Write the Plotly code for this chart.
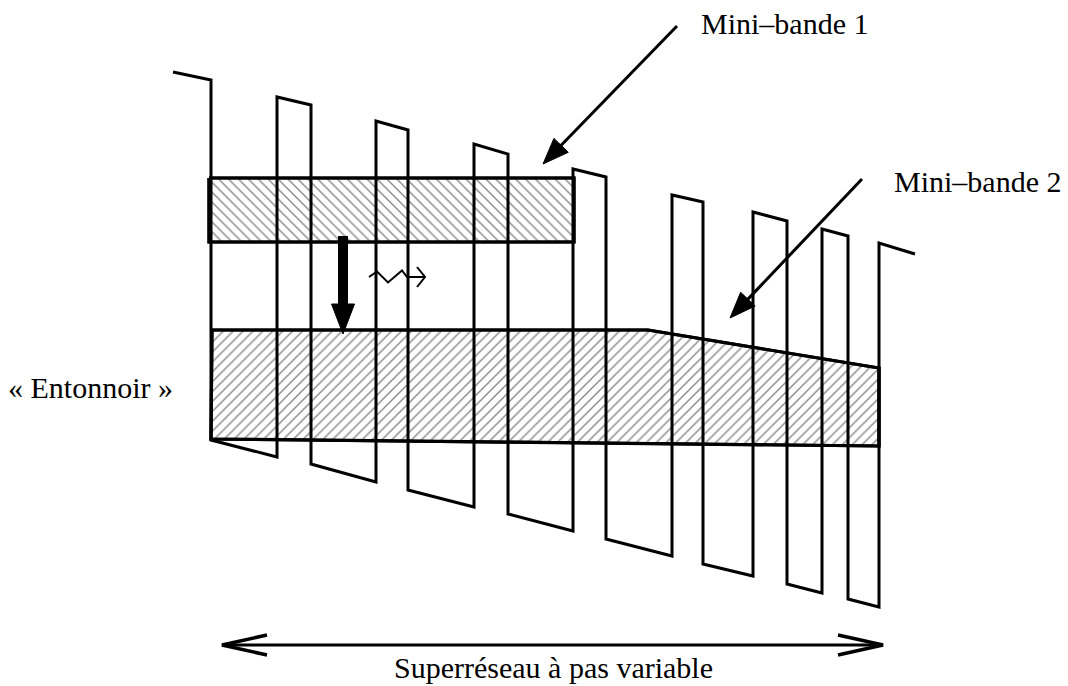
import math
import plotly.graph_objects as go

# ---------------- data (diagram coordinates, pixel-like units) ----------------
# superlattice potential profile (conduction band edge)
profile_x = [173, 211, 211, 277, 277, 311, 311, 376, 376, 408, 408, 474, 474, 508,
             508, 573, 573, 606, 606, 672, 672, 703, 703, 753, 753, 787, 787, 822,
             822, 848, 848, 879, 879, 915]
profile_y = [72, 80, 440, 457, 97, 105, 464, 482, 121, 130, 490, 507, 144, 154,
             514, 531, 169, 177, 539, 556, 195, 202, 564, 576, 212, 221, 584, 593,
             229, 236, 599, 607, 243, 254]

# mini-band 1 (rectangle)
band1_x = [209, 574, 574, 209, 209]
band1_y = [178, 178, 242, 242, 178]

# mini-band 2 ("entonnoir" / funnel)
band2_x = [212, 648, 879, 879, 211, 212]
band2_y = [330, 330, 368, 446, 439, 330]

# label arrows: (tail x, tail y, tip x, tip y)
arrow_band1 = (677, 26, 543, 164)
arrow_band2 = (862, 179, 730, 318)
# thick relaxation arrow
arrow_relax = (343, 236, 343, 334)
# photon (wavy) arrow
wavy_x = [369, 377, 388, 402, 407, 425]
wavy_y = [277, 271.5, 282.5, 270.5, 277, 277]
# double arrow for the superlattice extent
span_x = [222, 883]
span_y = 645

labels = ["Mini\u2013bande 1", "Mini\u2013bande 2", "\u00ab Entonnoir \u00bb",
          "Superr\u00e9seau \u00e0 pas variable"]
label_x = [699, 892, 6, 553]
label_y = [23, 181, 387, 667]
label_anchor = ["left", "left", "left", "center"]

W, H = 1068, 686
FONT = dict(family="Liberation Serif, Times New Roman, serif", size=30, color="black")

fig = go.Figure()

# hatched fills
fig.add_trace(go.Scatter(
    x=band1_x, y=band1_y, mode="lines", fill="toself",
    line=dict(color="black", width=3),
    fillcolor="white",
    fillpattern=dict(shape="\\", size=7, solidity=0.2, fgcolor="#111111", bgcolor="white"),
    hoverinfo="skip"))
fig.add_trace(go.Scatter(
    x=band2_x, y=band2_y, mode="lines", fill="toself",
    line=dict(color="black", width=3),
    fillcolor="white",
    fillpattern=dict(shape="/", size=7, solidity=0.2, fgcolor="#111111", bgcolor="white"),
    hoverinfo="skip"))

# potential profile
fig.add_trace(go.Scatter(x=profile_x, y=profile_y, mode="lines",
                         line=dict(color="black", width=3), hoverinfo="skip"))

# band outlines on top again
fig.add_trace(go.Scatter(x=band1_x, y=band1_y, mode="lines",
                         line=dict(color="black", width=3.2), hoverinfo="skip"))
fig.add_trace(go.Scatter(x=band2_x, y=band2_y, mode="lines",
                         line=dict(color="black", width=3.2), hoverinfo="skip"))


def filled_arrow(a, width, head_len, head_half):
    x0, y0, x1, y1 = a
    L = math.hypot(x1 - x0, y1 - y0)
    ux, uy = (x1 - x0) / L, (y1 - y0) / L
    px, py = -uy, ux
    bx, by = x1 - ux * head_len, y1 - uy * head_len
    fig.add_trace(go.Scatter(x=[x0, bx + ux * 2], y=[y0, by + uy * 2], mode="lines",
                             line=dict(color="black", width=width), hoverinfo="skip"))
    fig.add_trace(go.Scatter(
        x=[x1, bx + px * head_half, bx - px * head_half, x1],
        y=[y1, by + py * head_half, by - py * head_half, y1],
        mode="lines", fill="toself", fillcolor="black",
        line=dict(color="black", width=1), hoverinfo="skip"))


filled_arrow(arrow_band1, 3, 26, 10)
filled_arrow(arrow_band2, 3, 26, 10)
filled_arrow(arrow_relax, 10, 30, 11.5)

# wavy photon arrow
fig.add_trace(go.Scatter(x=wavy_x, y=wavy_y, mode="lines",
                         line=dict(color="black", width=2), hoverinfo="skip"))
hx, hy = wavy_x[-1], wavy_y[-1]
fig.add_trace(go.Scatter(x=[hx - 8, hx, hx - 8], y=[hy - 10, hy, hy + 10], mode="lines",
                         line=dict(color="black", width=2), hoverinfo="skip"))

# double-headed span arrow
fig.add_trace(go.Scatter(x=span_x, y=[span_y, span_y], mode="lines",
                         line=dict(color="black", width=3), hoverinfo="skip"))
for xt, d in [(span_x[0], 1), (span_x[1], -1)]:
    fig.add_trace(go.Scatter(x=[xt + d * 45, xt, xt + d * 45],
                             y=[span_y - 10, span_y, span_y + 10], mode="lines",
                             line=dict(color="black", width=3.5), hoverinfo="skip"))

for t, x, y, a in zip(labels, label_x, label_y, label_anchor):
    fig.add_annotation(x=x, y=y, text=t, showarrow=False, xanchor=a, yanchor="middle",
                       font=FONT)

fig.update_layout(
    width=W, height=H, margin=dict(l=0, r=0, t=0, b=0),
    paper_bgcolor="white", plot_bgcolor="white", showlegend=False,
    xaxis=dict(range=[0, W], visible=False, fixedrange=True),
    yaxis=dict(range=[H, 0], visible=False, fixedrange=True),
)

fig.write_html(
    "out.html",
    config={"displayModeBar": False},
    post_script="document.body.style.margin='0';document.body.style.overflow='hidden';",
)
